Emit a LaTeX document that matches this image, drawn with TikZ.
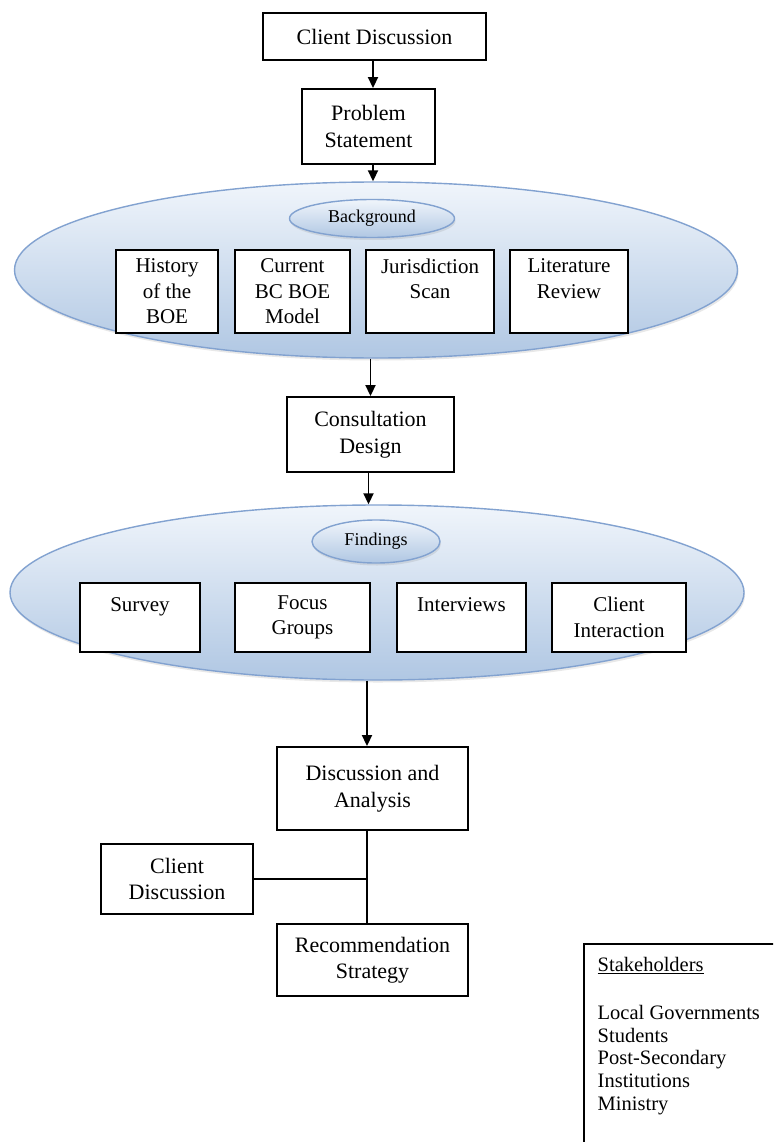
\documentclass[tikz,border=0pt]{standalone}
\usepackage{fontspec}
\setmainfont{Liberation Serif}
\usetikzlibrary{arrows.meta,shapes.geometric,shadows}
\definecolor{ellborder}{RGB}{130,162,208}
\definecolor{elltop}{RGB}{240,245,251}
\definecolor{ellbot}{RGB}{176,199,227}
\begin{document}
\begin{tikzpicture}[x=1pt,y=-1pt,
  box/.style={draw, line width=1.9pt, fill=white, align=center, inner sep=0pt,
    font=\fontsize{22}{26.5}\selectfont},
  ibox/.style={box, font=\fontsize{21}{25.5}\selectfont},
  bigell/.style={ellipse, draw=ellborder, line width=1.4pt, top color=elltop,
    bottom color=ellbot, inner sep=0pt,
    drop shadow={opacity=0.18, shadow xshift=1pt, shadow yshift=-2.5pt}},
  smell/.style={bigell, font=\fontsize{18}{20}\selectfont},
  arr/.style={-{Triangle[length=11pt,width=10pt]}, line width=1.9pt},
  conn/.style={line width=1.9pt}]
\clip (0,0) rectangle (773,1142);
\fill[white] (0,0) rectangle (773,1142);

% top boxes
\node[box, minimum width=223pt, minimum height=47pt] (cd1) at (374.5,36.5) {Client Discussion};
\node[box, minimum width=133pt, minimum height=75pt] (ps) at (368.5,126.5) {Problem\\Statement};

% background ellipse
\node[bigell, minimum width=723pt, minimum height=176pt] (ell1) at (376,270) {};
\node[smell, minimum width=165pt, minimum height=38pt] (bg) at (372,218.5) {Background};
\node[ibox, minimum width=102pt, minimum height=83pt] (hist) at (167,291.5) {History\\of the\\BOE};
\node[ibox, minimum width=115pt, minimum height=83pt] (cur) at (292.5,291.5) {Current\\BC BOE\\Model};
\node[ibox, minimum width=128pt, minimum height=83pt] (jur) at (430,291.5) {Jurisdiction\\Scan\\\phantom{X}};
\node[ibox, minimum width=118pt, minimum height=83pt] (lit) at (569,291.5) {Literature\\Review\\\phantom{X}};

% consultation
\node[box, minimum width=167pt, minimum height=75pt] (cons) at (370.5,434.5) {Consultation\\Design};

% findings ellipse
\node[bigell, minimum width=734pt, minimum height=175pt] (ell2) at (377,592.5) {};
\node[smell, minimum width=128pt, minimum height=43pt] (find) at (376,541.5) {Findings};
\node[ibox, minimum width=120pt, minimum height=69pt] (surv) at (140,617.5) {Survey\\\phantom{X}};
\node[ibox, minimum width=135pt, minimum height=69pt] (focus) at (302.5,617.5) {Focus\\Groups};
\node[ibox, minimum width=129pt, minimum height=69pt] (intv) at (461.5,617.5) {Interviews\\\phantom{X}};
\node[ibox, minimum width=134pt, minimum height=69pt] (clint) at (619,617.5) {Client\\Interaction};

% lower boxes
\node[box, minimum width=191pt, minimum height=83pt] (da) at (372.5,788.5) {Discussion and\\Analysis};
\node[box, minimum width=152pt, minimum height=70pt] (cd2) at (177,879) {Client\\Discussion};
\node[box, minimum width=191pt, minimum height=72pt] (rec) at (372.5,960) {Recommendation\\Strategy};

% stakeholders
\node[draw, line width=1.9pt, anchor=north west, minimum width=260pt, minimum height=260pt,
  inner sep=0pt] (stk) at (583,943) {};
\node[anchor=north west, inner sep=0pt, align=left,
  font=\fontsize{20.5}{22.7}\selectfont] (stkt) at (597.5,957)
  {\underline{Stakeholders}\\[2.5pt]\phantom{X}\\Local Governments\\Students\\Post-Secondary\\Institutions\\Ministry};

% connectors
\draw[arr] ([xshift=-1.5pt]cd1.south) -- ([xshift=-1.5pt]cd1.south |- ps.north);
\draw[arr] ([xshift=4.5pt]ps.south) -- ([xshift=4.5pt]ps.south |- ell1.north);
\draw[arr] (ell1.south -| cons.north) -- (cons.north);
\draw[arr] ([xshift=-2pt]cons.south) -- ([xshift=-2pt]cons.south |- ell2.north);
\draw[arr] ([xshift=-5.5pt]da.north |- ell2.south) -- ([xshift=-5.5pt]da.north);
\coordinate (j) at ([xshift=-5.5pt]da.south |- cd2.east);
\draw[conn] ([xshift=-5.5pt]da.south) -- ([xshift=-5.5pt]da.south |- rec.north);
\draw[conn] (cd2.east) -- (j);
\end{tikzpicture}
\end{document}
